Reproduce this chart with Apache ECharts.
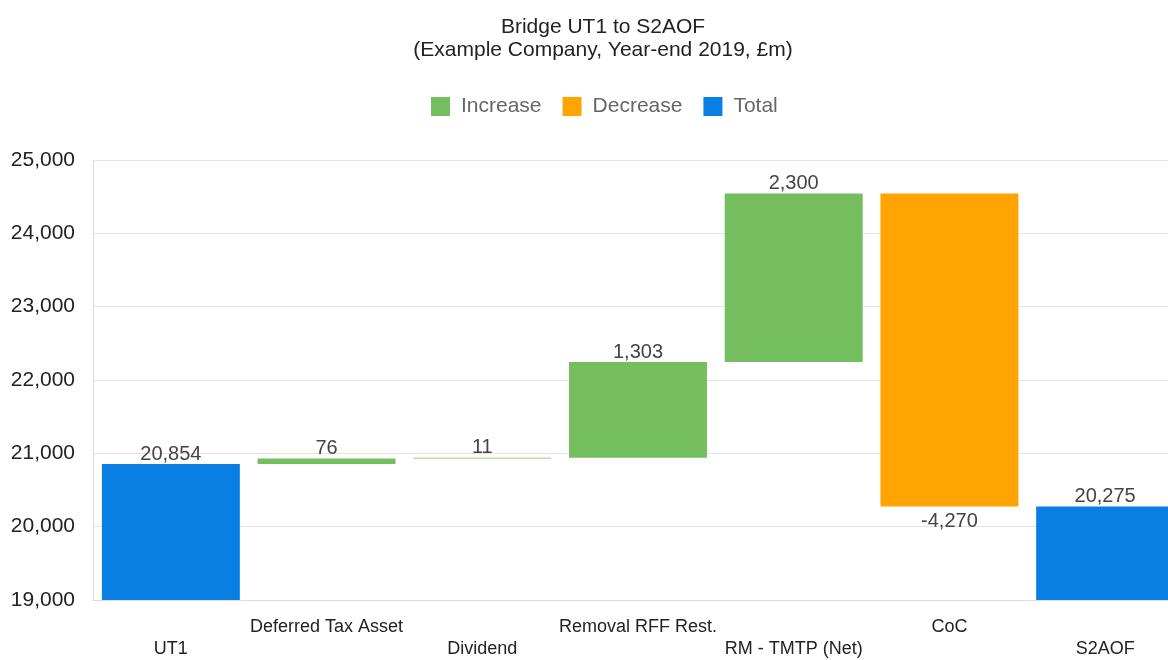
<!DOCTYPE html>
<html>
<head>
<meta charset="utf-8">
<script src="https://cdn.jsdelivr.net/npm/echarts@6/dist/echarts.min.js"></script>
<style>
  html, body { margin: 0; padding: 0; background: #fff; overflow: hidden; }
  #chart { width: 1183px; height: 660px; }
</style>
</head>
<body>
<div id="chart"></div>
<script>
const categories = ['UT1', 'Deferred Tax Asset', 'Dividend', 'Removal RFF Rest.', 'RM - TMTP (Net)', 'CoC', 'S2AOF'];
const values = [20854, 76, 11, 1303, 2300, -4270, 20275];
const kinds = ['total', 'inc', 'inc', 'inc', 'inc', 'dec', 'total'];
const yTicks = { min: 19000, max: 25000, interval: 1000 };

// build the stacked waterfall pieces
const placeholder = [];
const increase = [];
const decrease = [];
const total = [];
let running = 0;
values.forEach((v, i) => {
  const k = kinds[i];
  if (k === 'total') {
    placeholder.push(0);
    total.push(v);
    increase.push('-');
    decrease.push('-');
    running = v;
  } else if (k === 'inc') {
    placeholder.push(running);
    increase.push(v);
    decrease.push('-');
    total.push('-');
    running += v;
  } else {
    running += v;
    placeholder.push(running);
    decrease.push(-v);
    increase.push('-');
    total.push('-');
  }
});

const fmt = (n) => n.toLocaleString('en-US');
const labelStyle = {
  show: true,
  color: '#444',
  fontSize: 20,
  fontFamily: 'Liberation Sans, Arial, sans-serif',
  formatter: (p) => fmt(values[p.dataIndex])
};

// chart box is a bit wider than the window, the plot runs off the right edge
const chart = echarts.init(document.getElementById('chart'));
chart.setOption({
  textStyle: { fontFamily: 'Liberation Sans, Arial, sans-serif' },
  title: {
    text: 'Bridge UT1 to S2AOF\n(Example Company, Year-end 2019, £m)',
    left: 598,
    top: 11,
    textAlign: 'center',
    textStyle: {
      fontSize: 21,
      fontWeight: 'normal',
      color: '#222',
      lineHeight: 23
    }
  },
  legend: {
    data: ['Increase', 'Decrease', 'Total'],
    left: 426,
    top: 91,
    icon: 'rect',
    itemWidth: 19,
    itemHeight: 19,
    itemGap: 21,
    textStyle: { fontSize: 21, color: '#666', padding: [0, 0, 0, 6] }
  },
  grid: {
    left: 93,
    right: 0,
    top: 160,
    bottom: 58
  },
  xAxis: {
    type: 'category',
    data: categories,
    axisLine: { show: true, lineStyle: { color: '#ddd' } },
    axisTick: { show: false },
    axisLabel: {
      interval: 0,
      color: '#222',
      fontSize: 18,
      lineHeight: 22,
      margin: 16,
      formatter: (v, i) => (i % 2 === 0 ? '\n' + v : v)
    }
  },
  yAxis: {
    type: 'value',
    min: yTicks.min,
    max: yTicks.max,
    interval: yTicks.interval,
    axisLine: { show: true, lineStyle: { color: '#ddd' } },
    axisTick: { show: false },
    splitLine: { lineStyle: { color: '#e6e6e6' } },
    axisLabel: {
      color: '#222',
      fontSize: 21,
      margin: 18,
      formatter: (v) => fmt(v)
    }
  },
  series: [
    {
      name: 'placeholder',
      type: 'bar',
      stack: 'all',
      barWidth: '88.6%',
      silent: true,
      itemStyle: { color: 'transparent' },
      data: placeholder
    },
    {
      name: 'Increase',
      type: 'bar',
      stack: 'all',
      barWidth: '88.6%',
      itemStyle: { color: '#74be5f' },
      label: Object.assign({}, labelStyle, { position: 'top', distance: 0 }),
      data: increase
    },
    {
      name: 'Decrease',
      type: 'bar',
      stack: 'all',
      barWidth: '88.6%',
      itemStyle: { color: '#ffa400' },
      label: Object.assign({}, labelStyle, { position: 'bottom', distance: 5 }),
      data: decrease
    },
    {
      name: 'Total',
      type: 'bar',
      stack: 'all',
      barWidth: '88.6%',
      itemStyle: { color: '#0a7fe3' },
      label: Object.assign({}, labelStyle, { position: 'top', distance: 0 }),
      data: total
    }
  ]
});
</script>
</body>
</html>
